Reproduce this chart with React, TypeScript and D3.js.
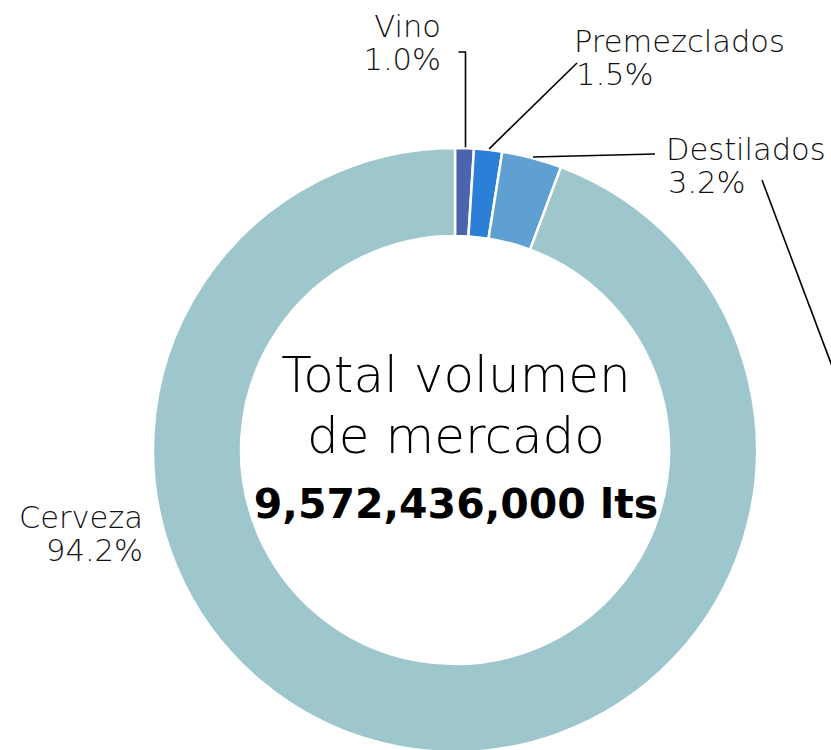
import React from "react";
import * as d3 from "d3";

const categories = ["Vino", "Premezclados", "Destilados", "Cerveza"];
const shares = [1.0, 1.5, 3.2, 94.2];
const shareLabels = ["1.0%", "1.5%", "3.2%", "94.2%"];
const colors = ["#4a65ad", "#2b7fd7", "#5f9fd1", "#9dc6cd"];
const centerLines = ["Total volumen", "de mercado"];
const totalLabel = "9,572,436,000 lts";

const W = 831;
const H = 750;
const cx = 455;
const cy = 450;
const outerR = 302;
const innerR = 214;
const FONT = "'DejaVu Sans', 'Open Sans', sans-serif";
const TEXT = "#111";

// label layout (positions only)
type Lay = { x: number; y: number; anchor: "start" | "end"; path: (p: [number, number]) => [number, number][] };
const layout: Record<string, Lay> = {
  Vino: { x: 441, y: 37, anchor: "end", path: (p) => [[p[0], p[1]], [p[0], 52], [p[0] - 7, 52]] },
  Premezclados: { x: 574, y: 52, anchor: "start", path: (p) => [[p[0], p[1]], [577, 63]] },
  Destilados: { x: 666, y: 160, anchor: "start", path: (p) => [[p[0], p[1]], [655, 154]] },
  Cerveza: { x: 143, y: 528, anchor: "end", path: () => [] },
};

export default function App() {
  const pie = d3
    .pie<number>()
    .sort(null)
    .startAngle(0)
    .endAngle(2 * Math.PI)
    .value((d) => d);
  const arcs = pie(shares);
  const arc = d3.arc<d3.PieArcDatum<number>>().innerRadius(innerR).outerRadius(outerR);
  const line = d3.line();

  return (
    <svg
      width={W}
      height={H}
      style={{ position: "absolute", left: 0, top: 0, background: "#fff" }}
      fontFamily={FONT}
    >
      <g transform={`translate(${cx},${cy})`}>
        {arcs.map((a, i) => (
          <path key={i} d={arc(a) || ""} fill={colors[i]} stroke="#fff" strokeWidth={2.5} />
        ))}
      </g>
      {arcs.map((a, i) => {
        const lay = layout[categories[i]];
        const mid = (a.startAngle + a.endAngle) / 2;
        const p: [number, number] = [cx + outerR * Math.sin(mid) + 1, cy - outerR * Math.cos(mid) - 1];
        const pts = lay.path(p);
        return (
          <g key={i}>
            {pts.length > 0 && (
              <path d={line(pts) || ""} fill="none" stroke="#000" strokeWidth={1.6} />
            )}
            <text x={lay.x} y={lay.y} textAnchor={lay.anchor} fontSize={30.5} fontWeight={300} fill={TEXT}>
              {categories[i]}
            </text>
            <text x={lay.x + (lay.anchor === "start" ? 2 : 0)} y={lay.y + 33} textAnchor={lay.anchor} fontSize={30.5} fontWeight={300} fill={TEXT}>
              {shareLabels[i]}
            </text>
          </g>
        );
      })}
      {/* stray leader line to the right */}
      <path d={line([[762, 180], [835, 374]]) || ""} stroke="#000" strokeWidth={1.6} fill="none" />
      {centerLines.map((t, i) => (
        <text key={i} x={cx + 1} y={392 + i * 61} textAnchor="middle" fontSize={50} fontWeight={300} fill="#000">
          {t}
        </text>
      ))}
      <text x={cx + 1} y={518} textAnchor="middle" fontSize={41} fontWeight="bold" fill="#000">
        {totalLabel}
      </text>
    </svg>
  );
}
